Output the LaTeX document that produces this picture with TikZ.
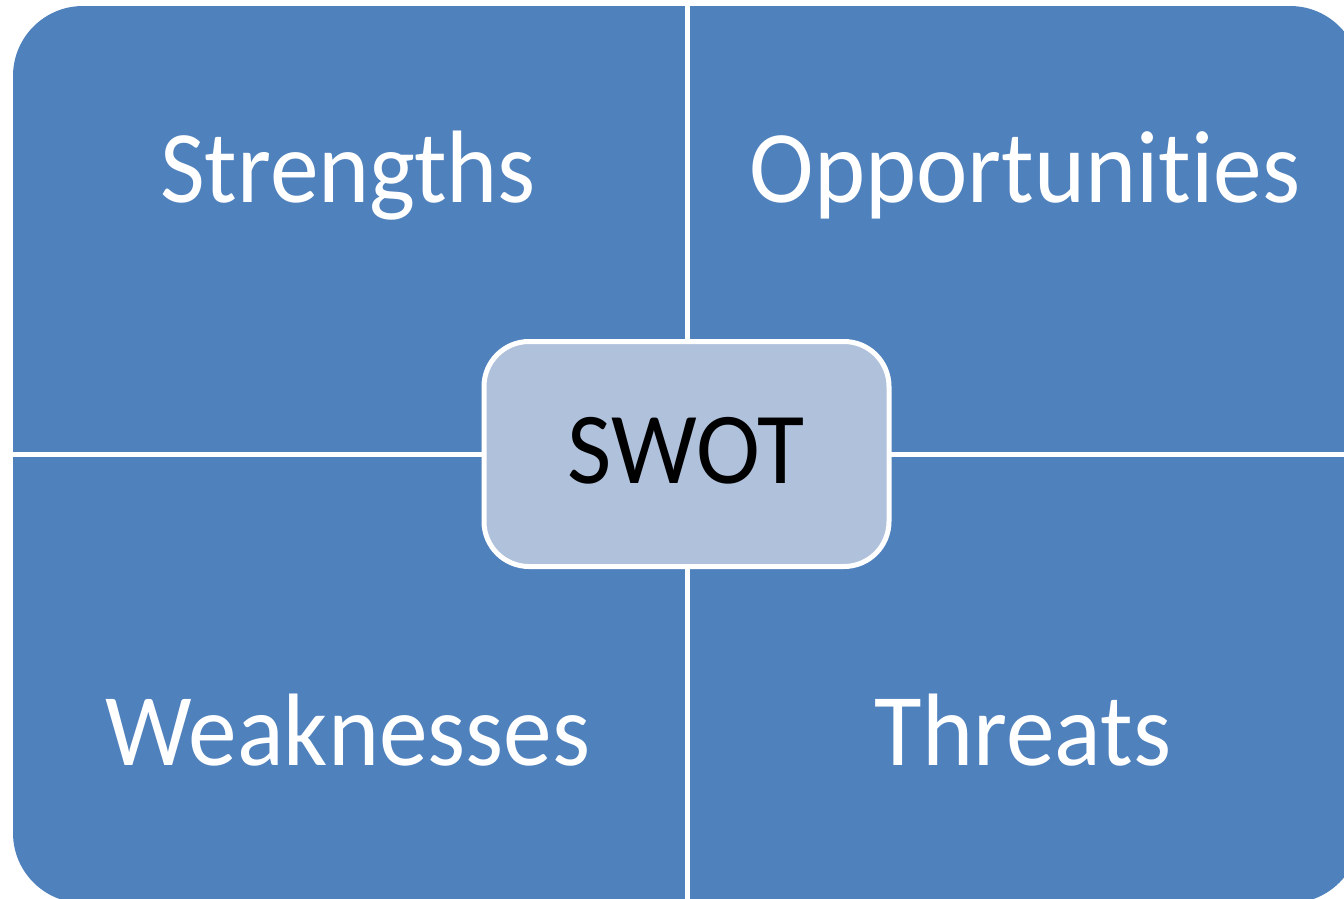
\documentclass[tikz,border=0pt]{standalone}
\usepackage{fontspec}
\setmainfont{Carlito}[FakeStretch=0.945,Ligatures={NoCommon,NoRare}]
\definecolor{swotblue}{HTML}{4F81BD}
\definecolor{swotlight}{HTML}{B0C1DC}
\begin{document}
\begin{tikzpicture}[x=1pt,y=-1pt,
  quadtext/.style={anchor=base,text=white,font=\fontsize{103}{110}\selectfont,inner sep=0pt},
  divider/.style={white,line width=5pt},
  centerbox/.style={draw=white,line width=5pt,fill=swotlight,rounded corners=45pt,
    minimum width=405pt,minimum height=225pt,inner sep=0pt}]
\useasboundingbox (0,0) rectangle (1344,898);
\clip (0,0) rectangle (1344,898);
\fill[white] (0,0) rectangle (1344,898);
\fill[swotblue,rounded corners=70pt] (13,6) rectangle (1360,903);
\coordinate (vtop) at (687,-5);
\coordinate (vbot) at (687,905);
\coordinate (hleft) at (0,454);
\coordinate (hright) at (1350,454);
\draw[divider] (vtop) -- (vbot);
\draw[divider] (hleft) -- (hright);
\node[centerbox] (swot) at (686.5,454) {};
\node[anchor=base,inner sep=0pt,font=\fontsize{102}{110}\selectfont] (swotlabel) at (686,483) {SWOT};
\node[quadtext] (s) at (348,202) {Strengths};
\node[quadtext] (o) at (1025,202) {Opportunities};
\node[quadtext] (w) at (348,765) {Weaknesses};
\node[quadtext] (t) at (1023,765) {Threats};
\end{tikzpicture}
\end{document}
